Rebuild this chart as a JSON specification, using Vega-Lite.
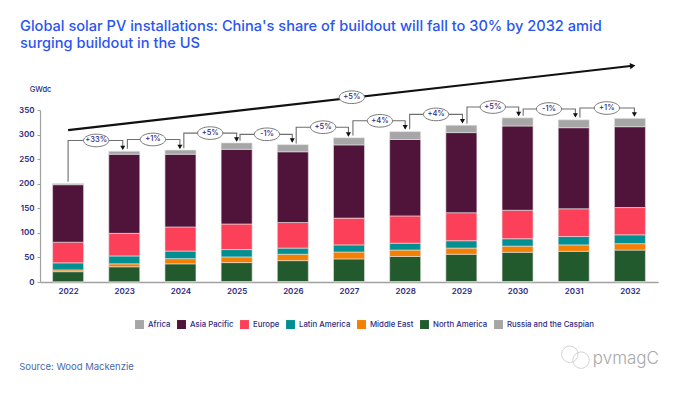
{"$schema":"https://vega.github.io/schema/vega-lite/v6.json","width":618,"height":172,"autosize":{"type":"none"},"padding":{"left":40,"top":110,"right":34,"bottom":113},"background":"#ffffff","config":{"font":"Inter","view":{"stroke":null}},"title":{"text":["Global solar PV installations: China's share of buildout will fall to 30% by 2032 amid","surging buildout in the US"],"anchor":"start","frame":"group","dx":-20,"offset":11,"fontSize":14.6,"fontWeight":500,"color":"#2b55f0","lineHeight":17},"datasets":{"bars":[
{"year":2022,"region":"Russia and the Caspian","value":0.5},{"year":2022,"region":"North America","value":20.5},{"year":2022,"region":"Middle East","value":3.5},{"year":2022,"region":"Latin America","value":14.5},{"year":2022,"region":"Europe","value":42},{"year":2022,"region":"Asia Pacific","value":117},{"year":2022,"region":"Africa","value":2.5},
{"year":2023,"region":"Russia and the Caspian","value":0.5},{"year":2023,"region":"North America","value":30.5},{"year":2023,"region":"Middle East","value":6},{"year":2023,"region":"Latin America","value":16},{"year":2023,"region":"Europe","value":46},{"year":2023,"region":"Asia Pacific","value":161},{"year":2023,"region":"Africa","value":6},
{"year":2024,"region":"Russia and the Caspian","value":1},{"year":2024,"region":"North America","value":36},{"year":2024,"region":"Middle East","value":10.5},{"year":2024,"region":"Latin America","value":15.5},{"year":2024,"region":"Europe","value":49},{"year":2024,"region":"Asia Pacific","value":148},{"year":2024,"region":"Africa","value":8.5},
{"year":2025,"region":"Russia and the Caspian","value":1},{"year":2025,"region":"North America","value":38.5},{"year":2025,"region":"Middle East","value":11.5},{"year":2025,"region":"Latin America","value":15},{"year":2025,"region":"Europe","value":52},{"year":2025,"region":"Asia Pacific","value":152},{"year":2025,"region":"Africa","value":13},
{"year":2026,"region":"Russia and the Caspian","value":1},{"year":2026,"region":"North America","value":42.5},{"year":2026,"region":"Middle East","value":13},{"year":2026,"region":"Latin America","value":12.5},{"year":2026,"region":"Europe","value":52},{"year":2026,"region":"Asia Pacific","value":144},{"year":2026,"region":"Africa","value":14.5},
{"year":2027,"region":"Russia and the Caspian","value":1},{"year":2027,"region":"North America","value":46},{"year":2027,"region":"Middle East","value":14},{"year":2027,"region":"Latin America","value":14.5},{"year":2027,"region":"Europe","value":54.5},{"year":2027,"region":"Asia Pacific","value":149},{"year":2027,"region":"Africa","value":14.5},
{"year":2028,"region":"Russia and the Caspian","value":1},{"year":2028,"region":"North America","value":51},{"year":2028,"region":"Middle East","value":13},{"year":2028,"region":"Latin America","value":14},{"year":2028,"region":"Europe","value":55.5},{"year":2028,"region":"Asia Pacific","value":155.5},{"year":2028,"region":"Africa","value":16},
{"year":2029,"region":"Russia and the Caspian","value":1},{"year":2029,"region":"North America","value":55.5},{"year":2029,"region":"Middle East","value":12.5},{"year":2029,"region":"Latin America","value":15},{"year":2029,"region":"Europe","value":57},{"year":2029,"region":"Asia Pacific","value":163},{"year":2029,"region":"Africa","value":15},
{"year":2030,"region":"Russia and the Caspian","value":1},{"year":2030,"region":"North America","value":59.5},{"year":2030,"region":"Middle East","value":12.5},{"year":2030,"region":"Latin America","value":15},{"year":2030,"region":"Europe","value":58},{"year":2030,"region":"Asia Pacific","value":171.5},{"year":2030,"region":"Africa","value":16.5},
{"year":2031,"region":"Russia and the Caspian","value":1},{"year":2031,"region":"North America","value":61.5},{"year":2031,"region":"Middle East","value":13},{"year":2031,"region":"Latin America","value":17},{"year":2031,"region":"Europe","value":56.5},{"year":2031,"region":"Asia Pacific","value":165},{"year":2031,"region":"Africa","value":16},
{"year":2032,"region":"Russia and the Caspian","value":1},{"year":2032,"region":"North America","value":64},{"year":2032,"region":"Middle East","value":13},{"year":2032,"region":"Latin America","value":18},{"year":2032,"region":"Europe","value":55.5},{"year":2032,"region":"Asia Pacific","value":164.5},{"year":2032,"region":"Africa","value":17}
],"brackets":[
{"id":"a","seq":1,"x":2022,"y":204},{"id":"a","seq":2,"x":2022,"y":288},{"id":"a","seq":3,"x":2022.973,"y":288},{"id":"a","seq":4,"x":2022.973,"y":270.5},
{"id":"b","seq":1,"x":2023.055,"y":271},{"id":"b","seq":2,"x":2023.055,"y":290},{"id":"b","seq":3,"x":2023.99,"y":290},{"id":"b","seq":4,"x":2023.99,"y":272},
{"id":"c","seq":1,"x":2024.06,"y":272},{"id":"c","seq":2,"x":2024.06,"y":303},{"id":"c","seq":3,"x":2025,"y":303},{"id":"c","seq":4,"x":2025,"y":287},
{"id":"d","seq":1,"x":2025.06,"y":287.5},{"id":"d","seq":2,"x":2025.06,"y":300.5},{"id":"d","seq":3,"x":2025.99,"y":300.5},{"id":"d","seq":4,"x":2025.99,"y":285},
{"id":"e","seq":1,"x":2026.06,"y":282},{"id":"e","seq":2,"x":2026.06,"y":315},{"id":"e","seq":3,"x":2026.99,"y":315},{"id":"e","seq":4,"x":2026.99,"y":297},
{"id":"f","seq":1,"x":2027.07,"y":298},{"id":"f","seq":2,"x":2027.07,"y":328},{"id":"f","seq":3,"x":2028,"y":328},{"id":"f","seq":4,"x":2028,"y":312},
{"id":"g","seq":1,"x":2028.08,"y":310.7},{"id":"g","seq":2,"x":2028.08,"y":341},{"id":"g","seq":3,"x":2029.02,"y":341},{"id":"g","seq":4,"x":2029.02,"y":324},
{"id":"h","seq":1,"x":2029.1,"y":322},{"id":"h","seq":2,"x":2029.1,"y":356},{"id":"h","seq":3,"x":2030.02,"y":356},{"id":"h","seq":4,"x":2030.02,"y":339},
{"id":"i","seq":1,"x":2030.1,"y":338.5},{"id":"i","seq":2,"x":2030.1,"y":352},{"id":"i","seq":3,"x":2031.03,"y":352},{"id":"i","seq":4,"x":2031.03,"y":336.5},
{"id":"j","seq":1,"x":2031.11,"y":334.5},{"id":"j","seq":2,"x":2031.11,"y":354},{"id":"j","seq":3,"x":2032.08,"y":354},{"id":"j","seq":4,"x":2032.08,"y":338.5}
],"tips":[{"x":2022.973,"y":273},{"x":2023.99,"y":275},{"x":2025,"y":290},{"x":2025.99,"y":288},{"x":2026.99,"y":300},{"x":2028,"y":315},{"x":2029.02,"y":327},{"x":2030.02,"y":342},{"x":2031.03,"y":339},{"x":2032.08,"y":341}],
"labels":[{"x":2022.5,"y":288,"t":"+33%"},{"x":2023.51,"y":290,"t":"+1%"},{"x":2024.53,"y":303,"t":"+5%"},{"x":2025.54,"y":300.5,"t":"-1%"},{"x":2026.54,"y":315,"t":"+5%"},{"x":2027.55,"y":328,"t":"+4%"},{"x":2028.55,"y":341,"t":"+4%"},{"x":2029.56,"y":356,"t":"+5%"},{"x":2030.56,"y":352,"t":"-1%"},{"x":2031.59,"y":354,"t":"+1%"},{"x":2027.05,"y":376,"t":"+5%"}]},
"encoding":{
"x":{"type":"quantitative","scale":{"domain":[2021.5,2032.5],"nice":false,"zero":false,"padding":0},"axis":{"values":[2022,2023,2024,2025,2026,2027,2028,2029,2030,2031,2032],"format":"d","title":null,"grid":false,"ticks":false,"domainColor":"#a0a0a0","domainWidth":1.5,"labelColor":"#2e2a80","labelFontSize":8,"labelFontWeight":600,"labelPadding":5,"labelFlush":false}},
"y":{"type":"quantitative","scale":{"domain":[0,350],"nice":false,"clamp":false},"axis":{"values":[0,50,100,150,200,250,300,350],"labelOverlap":false,"title":"GWdc","titleAngle":0,"titleX":0,"titleY":-17,"titleAlign":"center","titleColor":"#2e2a80","titleFontSize":7.5,"titleFontWeight":500,"grid":false,"domainColor":"#a0a0a0","domainWidth":1.2,"tickColor":"#a0a0a0","tickSize":3,"labelColor":"#2e2a80","labelFontSize":8,"labelFontWeight":600,"labelPadding":3}}},
"layer":[
{"data":{"name":"bars"},"mark":{"type":"bar","width":31,"stroke":"#e4e4e4","strokeWidth":0.6},"encoding":{
"x":{"field":"year"},
"y":{"aggregate":"sum","field":"value"},
"color":{"field":"region","type":"nominal","scale":{"domain":["Africa","Asia Pacific","Europe","Latin America","Middle East","North America","Russia and the Caspian"],"range":["#a6a6a6","#501339","#fd4059","#028f92","#f57f00","#225a2d","#a6a6a6"]},"legend":{"orient":"none","legendX":95,"legendY":210,"direction":"horizontal","columns":7,"title":null,"symbolType":"square","symbolSize":80,"symbolStrokeWidth":0,"symbolOpacity":1,"labelColor":"#2e2a80","labelFontSize":7.8,"labelFontWeight":500,"columnPadding":6,"labelOffset":4}}}},
{"data":{"name":"brackets"},"mark":{"type":"line","color":"#6e6e6e","strokeWidth":1.1},"encoding":{"x":{"field":"x"},"y":{"field":"y"},"detail":{"field":"id"},"order":{"field":"seq"}}},
{"data":{"name":"tips"},"mark":{"type":"point","shape":"triangle-down","filled":true,"color":"#111111","size":26,"opacity":1},"encoding":{"x":{"field":"x"},"y":{"field":"y"}}},
{"data":{"values":[{"x":2022,"y":309,"s":1},{"x":2032.05,"y":440,"s":2}]},"mark":{"type":"line","color":"#111111","strokeWidth":2.2},"encoding":{"x":{"field":"x"},"y":{"field":"y"},"order":{"field":"s"}}},
{"data":{"values":[{"x":2032.05,"y":440}]},"mark":{"type":"point","shape":"triangle-right","filled":true,"color":"#111111","size":40,"opacity":1,"angle":-6.5},"encoding":{"x":{"field":"x"},"y":{"field":"y"}}},
{"data":{"name":"labels"},"mark":{"type":"point","shape":"M-1,0 A1,0.5 0 1,1 1,0 A1,0.5 0 1,1 -1,0 Z","filled":true,"fill":"#ffffff","stroke":"#7a7a7a","strokeWidth":1,"size":640,"opacity":1},"encoding":{"x":{"field":"x"},"y":{"field":"y"}}},
{"data":{"name":"labels"},"mark":{"type":"text","color":"#2e2a80","fontSize":7.5,"fontWeight":500},"encoding":{"x":{"field":"x"},"y":{"field":"y"},"text":{"field":"t"}}},
{"data":{"values":[{"x":2021.13,"y":-172,"t":"Source: Wood Mackenzie"}]},"mark":{"type":"text","align":"left","color":"#4b6aa8","fontSize":9.5},"encoding":{"x":{"field":"x"},"y":{"field":"y"},"text":{"field":"t"}}},
{"data":{"values":[{"x":2030.93,"y":-147},{"x":2031.13,"y":-159}]},"mark":{"type":"point","shape":"circle","filled":false,"stroke":"#d4d4d4","strokeWidth":1,"size":270,"opacity":1},"encoding":{"x":{"field":"x"},"y":{"field":"y"}}},
{"data":{"values":[{"x":2031.34,"y":-157,"t":"pvmagC"}]},"mark":{"type":"text","align":"left","color":"#a8a8a8","fontSize":17,"fontWeight":300},"encoding":{"x":{"field":"x"},"y":{"field":"y"},"text":{"field":"t"}}}
]}
